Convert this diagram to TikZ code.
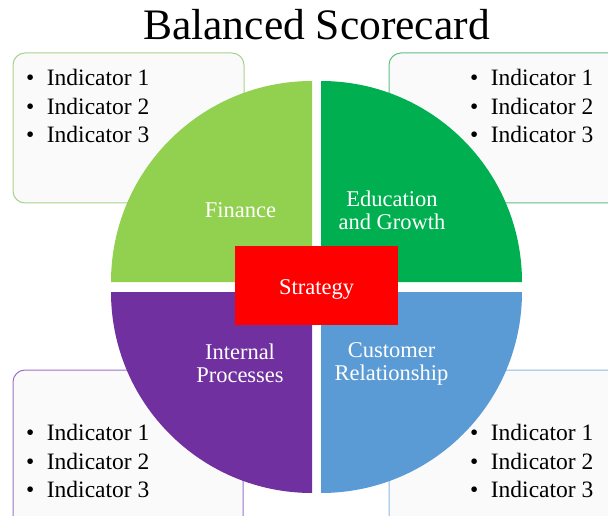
\documentclass[tikz,border=0pt]{standalone}
\usepackage{fontspec}
\setmainfont{Liberation Serif}
\usepackage{xcolor}
\definecolor{finance}{HTML}{92D050}
\definecolor{growth}{HTML}{00B050}
\definecolor{internal}{HTML}{7030A0}
\definecolor{customer}{HTML}{5B9BD5}
\definecolor{finline}{HTML}{A9D18E}
\definecolor{growline}{HTML}{5FC185}
\definecolor{intline}{HTML}{9D72C6}
\definecolor{custline}{HTML}{8FB8E2}
\definecolor{boxfill}{HTML}{FAFAFA}

\begin{document}
\begin{tikzpicture}[x=1pt,y=1pt,
	indbox/.style={rounded corners=12pt,fill=boxfill,line width=1pt},
	quadlabel/.style={text=white,align=center,font=\fontsize{22.5}{23}\selectfont},
	ind/.style={anchor=base west,inner sep=0pt,font=\fontsize{23.5}{28}\selectfont}]
\clip (0,0) rectangle (608,515);
% indicator boxes, behind the circle
\draw[indbox,draw=finline] (13,462) rectangle (244,312);
\draw[indbox,draw=growline] (389,462) rectangle (630,312);
\draw[indbox,draw=intline] (13,145) rectangle (243,-20);
\draw[indbox,draw=custline] (389,145) rectangle (630,-20);
% quadrants
\fill[finance] (312,233) -- ++(-201,0) arc[start angle=180,end angle=90,radius=201] -- cycle;
\fill[growth] (321,233) -- ++(0,201) arc[start angle=90,end angle=0,radius=201] -- cycle;
\fill[internal] (312,223) -- ++(0,-201) arc[start angle=270,end angle=180,radius=201] -- cycle;
\fill[customer] (321,223) -- ++(201,0) arc[start angle=0,end angle=-90,radius=201] -- cycle;
\node[quadlabel] (fin) at (240.5,305) {Finance};
\node[quadlabel] (gro) at (392,304.5) {Education\\and Growth};
\node[quadlabel] (int) at (240,151.5) {Internal\\Processes};
\node[quadlabel] (cus) at (391.5,151.5) {Customer\\Relationship};
\node[fill=red,text=white,minimum width=163pt,minimum height=79pt,text height=21pt,text depth=3pt,
	font=\fontsize{22.5}{23}\selectfont] (strategy) at (316.5,229.5) {Strategy};
% indicators
\foreach \i/\y in {1/429,2/400.5,3/372} {
	\node[ind] (fin\i) at (26,\y) {\textbullet\hspace{12.5pt}Indicator \i};
	\node[ind] (gro\i) at (470,\y) {\textbullet\hspace{12.5pt}Indicator \i};
}
\foreach \i/\y in {1/74.5,2/46,3/17.5} {
	\node[ind] (int\i) at (26,\y) {\textbullet\hspace{12.5pt}Indicator \i};
	\node[ind] (cus\i) at (470,\y) {\textbullet\hspace{12.5pt}Indicator \i};
}
\node[anchor=base,font=\fontsize{43.5}{50}\selectfont] (title) at (316.5,475) {Balanced Scorecard};
\end{tikzpicture}
\end{document}
